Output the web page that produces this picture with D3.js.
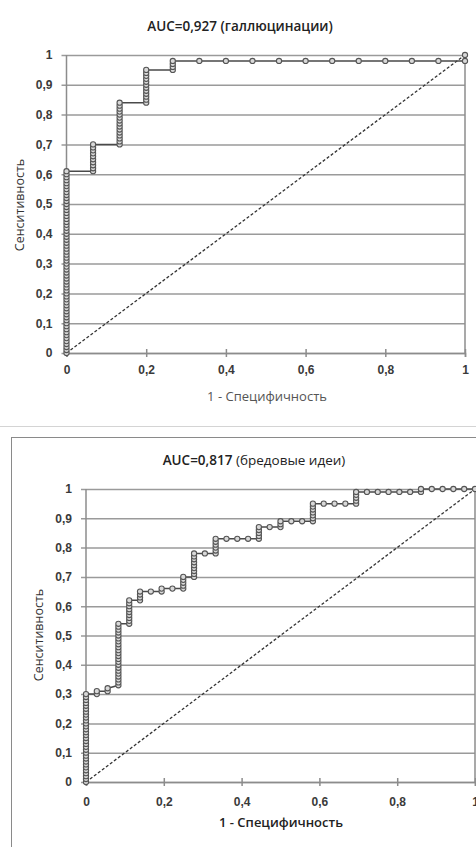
<!DOCTYPE html>
<html>
<head>
<meta charset="utf-8">
<script src="https://cdn.jsdelivr.net/npm/d3@7"></script>
<style>
  html, body { margin: 0; padding: 0; background: #fff; }
  svg { display: block; font-family: "Open Sans", "Noto Sans", sans-serif; }
</style>
</head>
<body>
<div id="chart"></div>
<script>
// оси
const xTicks = [0, 0.2, 0.4, 0.6, 0.8, 1];
const yTicks = [0, 0.1, 0.2, 0.3, 0.4, 0.5, 0.6, 0.7, 0.8, 0.9, 1];

// ROC: галлюцинации (1 - специфичность по столбцам, чувствительность в каждом столбце)
const hallFpr = [0, 0.0667, 0.1333, 0.2, 0.2667, 0.3333, 0.4, 0.4667, 0.5333, 0.6, 0.6667, 0.7333, 0.8, 0.8667, 0.9333, 1];
const hallTpr = [
    [0, 0.01, 0.02, 0.03, 0.04, 0.05, 0.06, 0.07, 0.08, 0.09, 0.10, 0.11, 0.12, 0.13, 0.14, 0.15, 0.16, 0.17, 0.18, 0.19,
     0.20, 0.21, 0.22, 0.23, 0.24, 0.25, 0.26, 0.27, 0.28, 0.29, 0.30, 0.31, 0.32, 0.33, 0.34, 0.35, 0.36, 0.37, 0.38, 0.39,
     0.40, 0.41, 0.42, 0.43, 0.44, 0.45, 0.46, 0.47, 0.48, 0.49, 0.50, 0.51, 0.52, 0.53, 0.54, 0.55, 0.56, 0.57, 0.58, 0.59,
     0.60, 0.61],
    [0.61, 0.62, 0.63, 0.64, 0.65, 0.66, 0.67, 0.68, 0.69, 0.70],
    [0.70, 0.71, 0.72, 0.73, 0.74, 0.75, 0.76, 0.77, 0.78, 0.79, 0.80, 0.81, 0.82, 0.83, 0.84],
    [0.84, 0.85, 0.86, 0.87, 0.88, 0.89, 0.90, 0.91, 0.92, 0.93, 0.94, 0.95],
    [0.95, 0.96, 0.97, 0.98],
    [0.98], [0.98], [0.98], [0.98], [0.98], [0.98], [0.98], [0.98], [0.98], [0.98],
    [0.98, 1]
];

// ROC: бредовые идеи
const deluFpr = [0, 0.0278, 0.0556, 0.0833, 0.1111, 0.1389, 0.1667, 0.1944, 0.2222, 0.25, 0.2778, 0.3056, 0.3333,
    0.3611, 0.3889, 0.4167, 0.4444, 0.4722, 0.5, 0.5278, 0.5556, 0.5833, 0.6111, 0.6389, 0.6667, 0.6944,
    0.7222, 0.75, 0.7778, 0.8056, 0.8333, 0.8611, 0.8889, 0.9167, 0.9444, 0.9722, 1];
const deluTpr = [
    [0, 0.01, 0.02, 0.03, 0.04, 0.05, 0.06, 0.07, 0.08, 0.09, 0.10, 0.11, 0.12, 0.13, 0.14, 0.15, 0.16, 0.17, 0.18, 0.19,
     0.20, 0.21, 0.22, 0.23, 0.24, 0.25, 0.26, 0.27, 0.28, 0.29, 0.30],
    [0.30, 0.31],
    [0.31, 0.32],
    [0.33, 0.34, 0.35, 0.36, 0.37, 0.38, 0.39, 0.40, 0.41, 0.42, 0.43, 0.44, 0.45, 0.46, 0.47, 0.48, 0.49, 0.50,
     0.51, 0.52, 0.53, 0.54],
    [0.54, 0.55, 0.56, 0.57, 0.58, 0.59, 0.60, 0.61, 0.62],
    [0.62, 0.63, 0.64, 0.65],
    [0.65],
    [0.65, 0.66],
    [0.66],
    [0.66, 0.67, 0.68, 0.69, 0.70],
    [0.70, 0.71, 0.72, 0.73, 0.74, 0.75, 0.76, 0.77, 0.78],
    [0.78],
    [0.78, 0.79, 0.80, 0.81, 0.82, 0.83],
    [0.83], [0.83], [0.83],
    [0.83, 0.84, 0.85, 0.86, 0.87],
    [0.87],
    [0.87, 0.88, 0.89],
    [0.89], [0.89],
    [0.89, 0.90, 0.91, 0.92, 0.93, 0.94, 0.95],
    [0.95], [0.95], [0.95],
    [0.95, 0.96, 0.97, 0.98, 0.99],
    [0.99], [0.99], [0.99], [0.99], [0.99],
    [0.99, 1],
    [1], [1], [1], [1], [1]
];

const svg = d3.select('#chart').append('svg')
    .attr('width', 476)
    .attr('height', 847);

// рамка второй диаграммы и разделитель
svg.append('line')
    .attr('x1', 0).attr('x2', 476).attr('y1', 426.5).attr('y2', 426.5)
    .attr('stroke', '#d4d4d4');
svg.append('rect')
    .attr('x', 11.5).attr('y', 437.5).attr('width', 520).attr('height', 450)
    .attr('fill', 'none').attr('stroke', '#8a8a8a');

const fmt = d => String(d).replace('.', ',');

function drawRoc(cfg) {
    const points = cfg.fpr.flatMap((x, i) => cfg.tpr[i].map(y => [x, y]));

    const x = d3.scaleLinear().domain([0, 1]).range([cfg.left, cfg.right]);
    const y = d3.scaleLinear().domain([0, 1]).range([cfg.bottom, cfg.top]);
    const w = cfg.right - cfg.left;
    const g = svg.append('g');

    // сетка + ось Y
    const gy = g.append('g')
        .attr('transform', `translate(${cfg.left},0)`)
        .call(d3.axisLeft(y).tickValues(yTicks).tickSize(-w).tickPadding(cfg.yPad).tickFormat(fmt));
    gy.select('.domain').remove();
    gy.selectAll('.tick line').attr('x1', -5).attr('stroke', '#9a9a9a').attr('stroke-width', 1.5);
    gy.selectAll('.tick text')
        .attr('fill', '#3a3a3a').attr('font-size', 12).attr('font-weight', 600);

    // вертикальные границы области построения
    g.append('line')
        .attr('x1', cfg.left).attr('x2', cfg.left).attr('y1', cfg.top).attr('y2', cfg.bottom)
        .attr('stroke', '#8c8c8c').attr('stroke-width', 1.5);
    g.append('line')
        .attr('x1', cfg.right).attr('x2', cfg.right).attr('y1', cfg.top).attr('y2', cfg.bottom)
        .attr('stroke', '#8c8c8c').attr('stroke-width', 1.5);

    // ось X
    const gx = g.append('g')
        .attr('transform', `translate(0,${cfg.bottom})`)
        .call(d3.axisBottom(x).tickValues(xTicks).tickSize(4).tickPadding(cfg.xPad).tickFormat(fmt));
    gx.select('.domain').attr('stroke', '#8c8c8c').attr('stroke-width', 1.5);
    gx.selectAll('.tick line').attr('y1', -4).attr('stroke', '#8c8c8c').attr('stroke-width', 1.5);
    gx.selectAll('.tick text')
        .attr('fill', '#3a3a3a').attr('font-size', 12).attr('font-weight', 600);

    // диагональ
    g.append('line')
        .attr('x1', x(0)).attr('y1', y(0)).attr('x2', x(1)).attr('y2', y(1))
        .attr('stroke', '#333').attr('stroke-width', 1.3).attr('stroke-dasharray', '3,2');

    // кривая
    g.append('path')
        .datum(points)
        .attr('fill', 'none')
        .attr('stroke', '#4a4a4a')
        .attr('stroke-width', 1.5)
        .attr('d', d3.line().x(d => x(d[0])).y(d => y(d[1])));

    g.selectAll('.pt')
        .data(points)
        .enter().append('circle')
        .attr('class', 'pt')
        .attr('cx', d => x(d[0]))
        .attr('cy', d => y(d[1]))
        .attr('r', 2.6)
        .attr('fill', '#d9d9d9')
        .attr('stroke', '#555')
        .attr('stroke-width', 1.1);

    // заголовок
    const t = g.append('text')
        .attr('x', cfg.titleX).attr('y', cfg.titleY)
        .attr('text-anchor', 'middle').attr('dominant-baseline', 'middle')
        .attr('font-size', 13.5).attr('fill', '#222');
    t.append('tspan').attr('font-weight', 600).text(cfg.titleBold);
    t.append('tspan').attr('font-weight', cfg.titleRestWeight).text(cfg.titleRest);

    // подписи осей
    g.append('text')
        .attr('x', cfg.xLabelX).attr('y', cfg.xLabelY)
        .attr('text-anchor', 'middle').attr('dominant-baseline', 'middle')
        .attr('font-size', 13).attr('font-weight', cfg.xLabelWeight).attr('fill', cfg.xLabelColor)
        .text('1 - Специфичность');
    g.append('text')
        .attr('transform', `translate(${cfg.yLabelX},${cfg.yLabelY}) rotate(-90)`)
        .attr('text-anchor', 'middle').attr('dominant-baseline', 'middle')
        .attr('font-size', 12.5).attr('fill', '#333')
        .text('Сенситивность');
}

drawRoc({
    fpr: hallFpr, tpr: hallTpr,
    left: 66.5, right: 465, top: 55, bottom: 353,
    yPad: 14, xPad: 8,
    titleBold: 'AUC=0,927 ', titleRest: '(галлюцинации)', titleRestWeight: 600,
    titleX: 240, titleY: 27,
    xLabelX: 267, xLabelY: 398, xLabelWeight: 400, xLabelColor: '#555',
    yLabelX: 21, yLabelY: 205
});

drawRoc({
    fpr: deluFpr, tpr: deluTpr,
    left: 86, right: 475, top: 489, bottom: 782,
    yPad: 14, xPad: 11,
    titleBold: 'AUC=0,817 ', titleRest: '(бредовые идеи)', titleRestWeight: 400,
    titleX: 254, titleY: 461,
    xLabelX: 281, xLabelY: 824, xLabelWeight: 600, xLabelColor: '#222',
    yLabelX: 40, yLabelY: 635
});
</script>
</body>
</html>
